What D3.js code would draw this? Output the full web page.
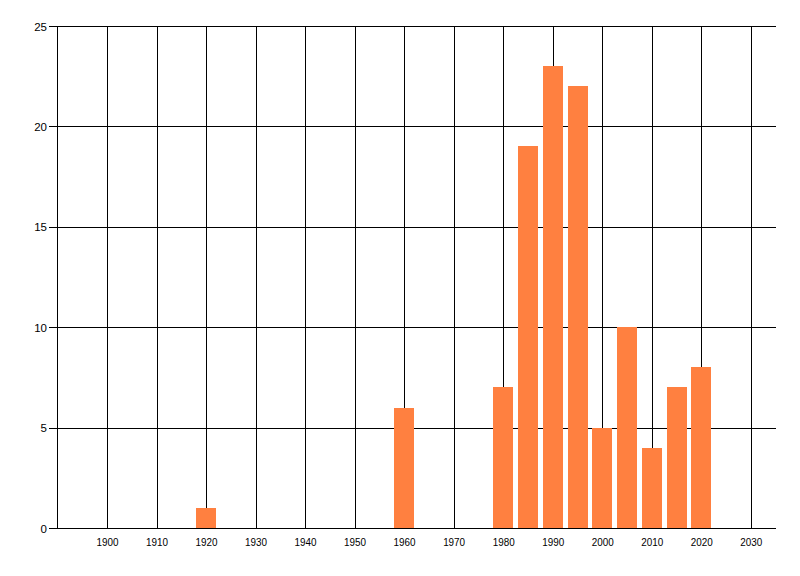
<!DOCTYPE html>
<html>
<head>
<meta charset="utf-8">
<script src="https://cdn.jsdelivr.net/npm/d3@7"></script>
<style>
  html, body { margin: 0; padding: 0; background: #fff; }
  svg { display: block; }
  text { font-family: "Liberation Sans", Arial, sans-serif; font-size: 11.5px; fill: #000; }
</style>
</head>
<body>
<svg id="chart" width="800" height="576"></svg>
<script>
const years = [1920, 1960, 1980, 1985, 1990, 1995, 2000, 2005, 2010, 2015, 2020];
const counts = [1, 6, 7, 19, 23, 22, 5, 10, 4, 7, 8];
const xTicks = [1900, 1910, 1920, 1930, 1940, 1950, 1960, 1970, 1980, 1990, 2000, 2010, 2020, 2030];
const yTicks = [0, 5, 10, 15, 20, 25];

const svg = d3.select("#chart");
const x = d3.scaleLinear().domain([1890, 2035]).range([57.5, 775.5]);
const y = d3.scaleLinear().domain([0, 25]).range([528, 26]);
const barW = x(1894) - x(1890);
const py = v => Math.round(y(v)) + 0.5;
const px = v => Math.round(x(v)) + 0.5;

// horizontal grid
svg.append("g").selectAll("line").data(yTicks).join("line")
  .attr("x1", 57).attr("x2", 776)
  .attr("y1", d => py(d)).attr("y2", d => py(d))
  .attr("stroke", "#000").attr("stroke-width", 1);

// vertical grid
svg.append("g").selectAll("line").data(xTicks).join("line")
  .attr("x1", d => px(d)).attr("x2", d => px(d))
  .attr("y1", py(25)).attr("y2", py(0))
  .attr("stroke", "#000").attr("stroke-width", 1);

// left axis line
svg.append("line")
  .attr("x1", 57.5).attr("x2", 57.5).attr("y1", py(25)).attr("y2", py(0))
  .attr("stroke", "#000");

// bars
svg.append("g").selectAll("rect").data(years).join("rect")
  .attr("x", d => Math.round(x(d) - barW / 2))
  .attr("width", Math.round(barW))
  .attr("y", (d, i) => Math.round(y(counts[i])))
  .attr("height", (d, i) => Math.round(y(0)) - Math.round(y(counts[i])))
  .attr("fill", "#ff8040");

// y ticks & labels
const yAxis = svg.append("g");
yAxis.selectAll("line").data(yTicks).join("line")
  .attr("x1", 49).attr("x2", 57.5)
  .attr("y1", d => py(d)).attr("y2", d => py(d))
  .attr("stroke", "#000");
yAxis.selectAll("text").data(yTicks).join("text")
  .attr("x", 47).attr("y", d => y(d) + 4.5)
  .attr("text-anchor", "end")
  .text(d => d);

// x labels
svg.append("g").selectAll("text").data(xTicks).join("text")
  .attr("x", d => x(d) + 0.5).attr("y", 545.5)
  .attr("text-anchor", "middle")
  .attr("textLength", 22).attr("lengthAdjust", "spacingAndGlyphs")
  .text(d => d);

// bottom axis line
svg.append("line")
  .attr("x1", 57).attr("x2", 776)
  .attr("y1", py(0)).attr("y2", py(0))
  .attr("stroke", "#000");
</script>
</body>
</html>
